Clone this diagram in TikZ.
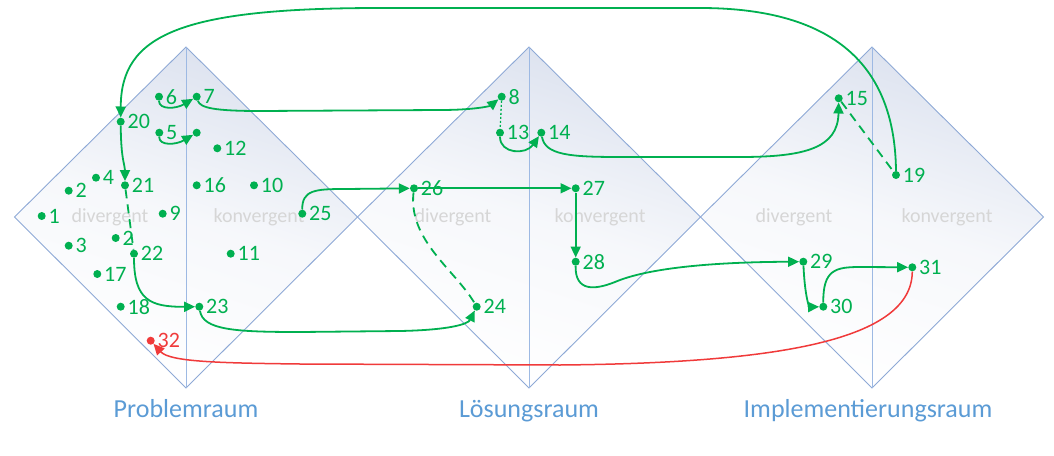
\documentclass[tikz,border=0pt]{standalone}
\usepackage{fontspec}
\setmainfont{Carlito}
\usetikzlibrary{arrows.meta}
\definecolor{grn}{HTML}{00B050}
\definecolor{redc}{HTML}{F03A3A}
\definecolor{dline}{HTML}{8EA9D6}
\definecolor{vline}{HTML}{9DB9E3}
\definecolor{dtint}{HTML}{DCE2EF}
\definecolor{ghost}{HTML}{D6D6D6}
\definecolor{rlab}{HTML}{5B9BD5}
\tikzset{
  pt/.style={circle, fill=grn, inner sep=0pt, minimum size=8pt},
  ptred/.style={circle, fill=redc, inner sep=0pt, minimum size=8pt},
  lbl/.style={text=grn, inner sep=1pt, font=\fontsize{22}{24}\selectfont},
  lblred/.style={text=redc, inner sep=1pt, font=\fontsize{22}{24}\selectfont},
  conn/.style={draw=grn, line width=1.8pt, -{Triangle[length=11pt,width=10pt]}},
  plain/.style={draw=grn, line width=1.8pt},
  redconn/.style={draw=redc, line width=1.5pt, -{Triangle[length=11pt,width=10pt]}},
  ghosttext/.style={text=ghost, font=\fontsize{20}{22}\selectfont},
  roomtext/.style={text=rlab, font=\fontsize{26}{28}\selectfont, anchor=base},
  label distance=1.5pt
}
\begin{document}
\begin{tikzpicture}[x=1pt,y=-1pt]
\useasboundingbox (0,0) rectangle (1054,455);
% diamonds
\foreach \c in {186,529,872}{
  \shade[top color=dtint, bottom color=white, middle color=dtint!25!white, shading angle=-18]
    (\c-171.5,217) -- (\c,47) -- (\c+171.5,217) -- (\c,388) -- cycle;
}
\foreach \c in {186,529,872}{
  \draw[dline, line width=0.9pt] (\c-171.5,217) -- (\c,47) -- (\c+171.5,217) -- (\c,388) -- cycle;
  \draw[vline, line width=1pt] (\c,47) -- (\c,388);
}
% ghost texts
\node[ghosttext] (dv1) at (110,217) {divergent};
\node[ghosttext] (kv1) at (259,217) {konvergent};
\node[ghosttext] (dv2) at (453,217) {divergent};
\node[ghosttext] (kv2) at (600,217) {konvergent};
\node[ghosttext] (dv3) at (794,217) {divergent};
\node[ghosttext] (kv3) at (947,217) {konvergent};
% room labels
\node[roomtext] (r1) at (186,417) {Problemraum};
\node[roomtext] (r2) at (529,417) {Lösungsraum};
\node[roomtext] (r3) at (868,417) {Implementierungsraum};
% points
\node[pt,label={[lbl]right:1}] (p1) at (41.7,216) {};
\node[pt,label={[lbl]right:2}] (p2) at (68.7,190.7) {};
\node[pt,label={[lbl]right:3}] (p3) at (68.7,245.7) {};
\node[pt,label={[lbl]right:4}] (p4) at (96,177.7) {};
\node[pt,label={[lbl]right:5}] (p5) at (159.3,132.7) {};
\node[pt] (p5b) at (196.7,132.7) {};
\node[pt,label={[lbl]right:6}] (p6) at (159,96.7) {};
\node[pt,label={[lbl]right:7}] (p7) at (196.7,96.7) {};
\node[pt,label={[lbl]right:8}] (p8) at (501.7,96.7) {};
\node[pt,label={[lbl]right:9}] (p9) at (162.7,213.7) {};
\node[pt,label={[lbl]right:10}] (p10) at (254,185.3) {};
\node[pt,label={[lbl]right:11}] (p11) at (230.7,253.7) {};
\node[pt,label={[lbl]right:12}] (p12) at (217.3,148.3) {};
\node[pt,label={[lbl]right:13}] (p13) at (500,132.7) {};
\node[pt,label={[lbl]right:14}] (p14) at (541.3,132.7) {};
\node[pt,label={[lbl]right:15}] (p15) at (838.7,98.3) {};
\node[pt,label={[lbl]right:16}] (p16) at (196.7,185.3) {};
\node[pt,label={[lbl]right:17}] (p17) at (97.3,274) {};
\node[pt,label={[lbl]right:18}] (p18) at (120.7,306.7) {};
\node[pt,label={[lbl]right:19}] (p19) at (896,175) {};
\node[pt,label={[lbl]right:20}] (p20) at (120.7,121.7) {};
\node[pt,label={[lbl]right:21}] (p21) at (125,185.3) {};
\node[pt,label={[lbl]right:2}] (p2b) at (115.7,238) {};
\node[pt,label={[lbl]right:22}] (p22) at (134,253.7) {};
\node[pt,label={[lbl]right:23}] (p23) at (199.3,306.7) {};
\node[pt,label={[lbl]right:24}] (p24) at (476.7,306.7) {};
\node[pt,label={[lbl]right:25}] (p25) at (302.3,213.7) {};
\node[pt,label={[lbl]right:26}] (p26) at (414,188.3) {};
\node[pt,label={[lbl]right:27}] (p27) at (575.7,188.3) {};
\node[pt,label={[lbl]right:28}] (p28) at (575.7,261.7) {};
\node[pt,label={[lbl]right:29}] (p29) at (803.3,261.7) {};
\node[pt,label={[lbl]right:30}] (p30) at (823.3,306.7) {};
\node[pt,label={[lbl]right:31}] (p31) at (912.3,267.3) {};
\node[ptred,label={[lblred]right:32}] (p32) at (150.7,340.7) {};
% connectors
\draw[conn] (p19.north) .. controls (895,80) and (850,8) .. (700,8) -- (380,8)
   .. controls (180,8) and (121,35) .. (p20.north);
\draw[conn] (p6) .. controls (159,110) and (176,109) .. (p7);
\draw[conn] (p5) .. controls (159,146) and (176,145) .. (p5b);
\draw[conn] (p7) .. controls (200,108) and (215,111) .. (260,111) -- (440,110)
   .. controls (475,110) and (490,106) .. (p8);
\draw[conn] (p20) .. controls (121,160) and (125,165) .. (p21);
\draw[plain, dash pattern=on 9pt off 6pt] (p21) -- (p22);
\draw[conn] (p22) .. controls (134,300) and (150,307) .. (p23);
\draw[conn] (p23) .. controls (203,330) and (235,332) .. (300,332) -- (400,331)
   .. controls (450,330) and (468,324) .. (p24);
\draw[conn] (p25) .. controls (302,190) and (315,189) .. (345,189) -- (p26);
\draw[conn] (p26) -- (p27);
\draw[plain, dash pattern=on 9pt off 6pt] (p26) .. controls (408,240) and (455,270) .. (p24);
\draw[plain, dash pattern=on 2pt off 2pt, line width=1.3pt] (p8) -- (p13);
\draw[conn] (p13) .. controls (500,154) and (526,155) .. (p14);
\draw[conn] (p14) .. controls (545,155) and (570,157) .. (620,157) -- (740,157)
   .. controls (805,157) and (838,148) .. (p15);
\draw[plain, dash pattern=on 9pt off 6pt] (p15) -- (p19);
\draw[conn] (p27) -- (p28);
\draw[conn] (p28) .. controls (575,292) and (595,290) .. (615,282)
   .. controls (650,267) and (720,262) .. (p29);
\draw[conn] (p29) .. controls (805,300) and (810,307) .. (p30);
\draw[conn] (p30) .. controls (823,270) and (835,267) .. (860,267) -- (p31);
\draw[redconn] (p31) .. controls (912,340) and (780,363) .. (560,365) -- (300,364)
   .. controls (220,363) and (170,362) .. (p32);
\end{tikzpicture}
\end{document}
